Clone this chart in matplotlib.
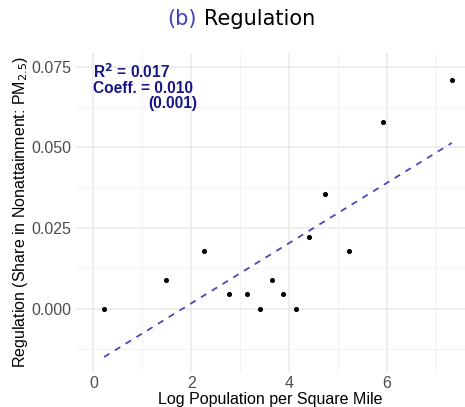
import matplotlib
matplotlib.use('Agg')
import matplotlib.pyplot as plt
import numpy as np

# data
log_pop = [0.22, 1.49, 2.25, 2.78, 3.13, 3.40, 3.65, 3.88, 4.14, 4.40, 4.74, 5.23, 5.91, 7.32]
regulation = [0.0, 0.0089, 0.018, 0.0046, 0.0046, 0.0, 0.0089, 0.0046, 0.0, 0.0223, 0.0355, 0.018, 0.0579, 0.071]
fit_slope = 0.00934
fit_intercept = -0.0170
r2_text = '0.017'
coef_text = '0.010'
se_text = '(0.001)'

x_ticks = [0, 2, 4, 6]
y_ticks = [0.0, 0.025, 0.05, 0.075]
y_labels = ['0.000', '0.025', '0.050', '0.075']

plt.rcParams['font.family'] = ['Liberation Sans', 'DejaVu Sans']

fig = plt.figure(figsize=(4.65, 4.07), dpi=100)
ax = fig.add_axes([75.7 / 465, 35.3 / 407, 1 - 75.7 / 465, 318.9 / 407])

grid_col = '#EBEBEB'
ax.set_xticks(x_ticks)
ax.set_xticks([1, 3, 5, 7], minor=True)
ax.set_yticks(y_ticks)
ax.set_yticks([-0.0125, 0.0125, 0.0375, 0.0625], minor=True)
ax.set_yticklabels(y_labels)
ax.grid(True, which='major', color=grid_col, linewidth=1.2)
ax.grid(True, which='minor', color='#F2F2F2', linewidth=0.7)
ax.set_axisbelow(True)
for s in ax.spines.values():
    s.set_visible(False)
ax.tick_params(which='both', length=0, labelsize=11.5, labelcolor='#4D4D4D', pad=3)

ax.set_xlim(-0.36, 7.59)
ax.set_ylim(-0.0195, 0.0793)

xs = np.array([min(log_pop), max(log_pop)])
ax.plot(xs, fit_intercept + fit_slope * xs, linestyle=(0, (3.5, 3.5)), color='#4B48B8', linewidth=1.3)
ax.scatter(log_pop, regulation, s=7, color='black', zorder=3)

ax.set_xlabel('Log Population per Square Mile', fontsize=11.5, labelpad=1)
ax.set_ylabel('Regulation (Share in Nonattainment: PM$_{2.5}$)', fontsize=11.5, labelpad=1)

ann = dict(color='#151585', fontsize=11.2, fontweight='bold', va='baseline')
ax.text(0.0, 0.0715, 'R$^{\\mathbf{2}}$ = ' + r2_text, **ann)
ax.text(0.0, 0.0668, 'Coeff. = ' + coef_text, **ann)
ax.text(1.12, 0.0622, se_text, **ann)

fig.text(197 / 465, 0.953, '(b)', color='#4040C0', fontsize=15, ha='right', va='center', family='DejaVu Sans')
fig.text(204 / 465, 0.953, 'Regulation', color='black', fontsize=15, ha='left', va='center', family='DejaVu Sans')

fig.savefig('out.png', dpi=100)
